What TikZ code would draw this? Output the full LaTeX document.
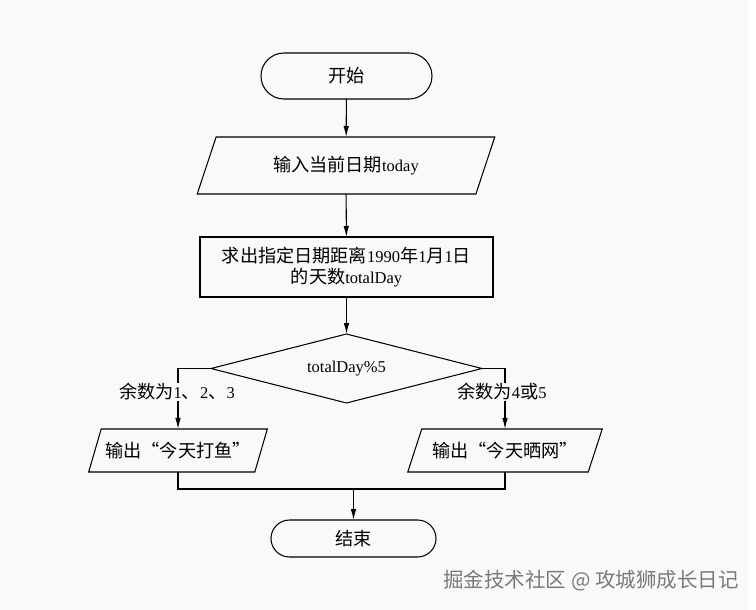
\documentclass[tikz,border=0pt]{standalone}
\usepackage{fontspec}
\setmainfont{Liberation Serif}
\newfontfamily\cjk[Scale=1.1]{Noto Sans CJK SC}
\newfontfamily\wmfont{Noto Sans CJK SC}
\usetikzlibrary{shapes.geometric,arrows.meta}
\definecolor{bgc}{HTML}{F9F9F9}
\definecolor{wm}{HTML}{7A7A7A}
\begin{document}
\begin{tikzpicture}[x=1pt,y=-1pt,
  every node/.style={font=\fontsize{16.5}{21}\selectfont, inner sep=2pt, outer sep=0pt},
  line/.style={draw=black, line width=1.05pt},
  arr/.style={line, -{Latex[length=11pt,width=5.5pt]}},
  term/.style={line, rectangle, rounded corners=#1},
  iobox/.style={line, trapezium, trapezium stretches=true, trapezium left angle=#1, trapezium right angle=180-#1},
  procbox/.style={line, rectangle, align=center},
  decbox/.style={line, diamond, aspect=3.9},
  lab/.style={fill=bgc, inner sep=1pt}
]
\fill[bgc] (0,0) rectangle (756,610);
\fill[white] (748,0) rectangle (756,610);
\useasboundingbox (0,0) rectangle (756,610);

\node[term=23pt, minimum width=171pt, minimum height=46pt] (start) at (346.5,76) {\cjk 开始};
\node[iobox=64.6, minimum width=298pt, minimum height=57pt] (input) at (346,165.5) {{\cjk 输入当前日期}today};
\node[procbox, minimum width=293pt, minimum height=60pt] (proc) at (346.5,267)
  {{\cjk 求出指定日期距离}1990{\cjk 年}1{\cjk 月}1{\cjk 日}\\{\cjk 的天数}totalDay};
\node[decbox, minimum width=271pt, minimum height=69pt] (dec) at (346.5,368.5) {totalDay\%5};
\node[iobox=59.8, minimum width=179pt, minimum height=43pt] (lo) at (178,450.5) {{\cjk 输出“今天打鱼”}};
\node[iobox=59, minimum width=195pt, minimum height=43pt] (ro) at (505,450.5) {{\cjk 输出“今天晒网”}};
\node[term=18.5pt, minimum width=165pt, minimum height=37pt] (endn) at (353.5,538.5) {\cjk 结束};
\coordinate (m) at (353.5,489);

\draw[arr] (start) -- (input);
\draw[arr] (input) -- (proc);
\draw[arr] (proc) -- (dec);
\draw[arr] (dec.west) -| (lo.north);
\draw[arr] (dec.east) -| (ro.north);
\draw[line] (lo.south) |- (m) -| (ro.south);
\draw[arr] (m) -- (endn);

\node[lab] (l1) at (177,392) {{\cjk 余数为}1{\cjk 、}2{\cjk 、}3};
\node[lab] (l2) at (502,392) {{\cjk 余数为}4{\cjk 或}5};

\node[font=\wmfont\fontsize{20.5}{24}\selectfont, text=wm] (wmk) at (591,581) {掘金技术社区 @ 攻城狮成长日记};
\end{tikzpicture}
\end{document}
